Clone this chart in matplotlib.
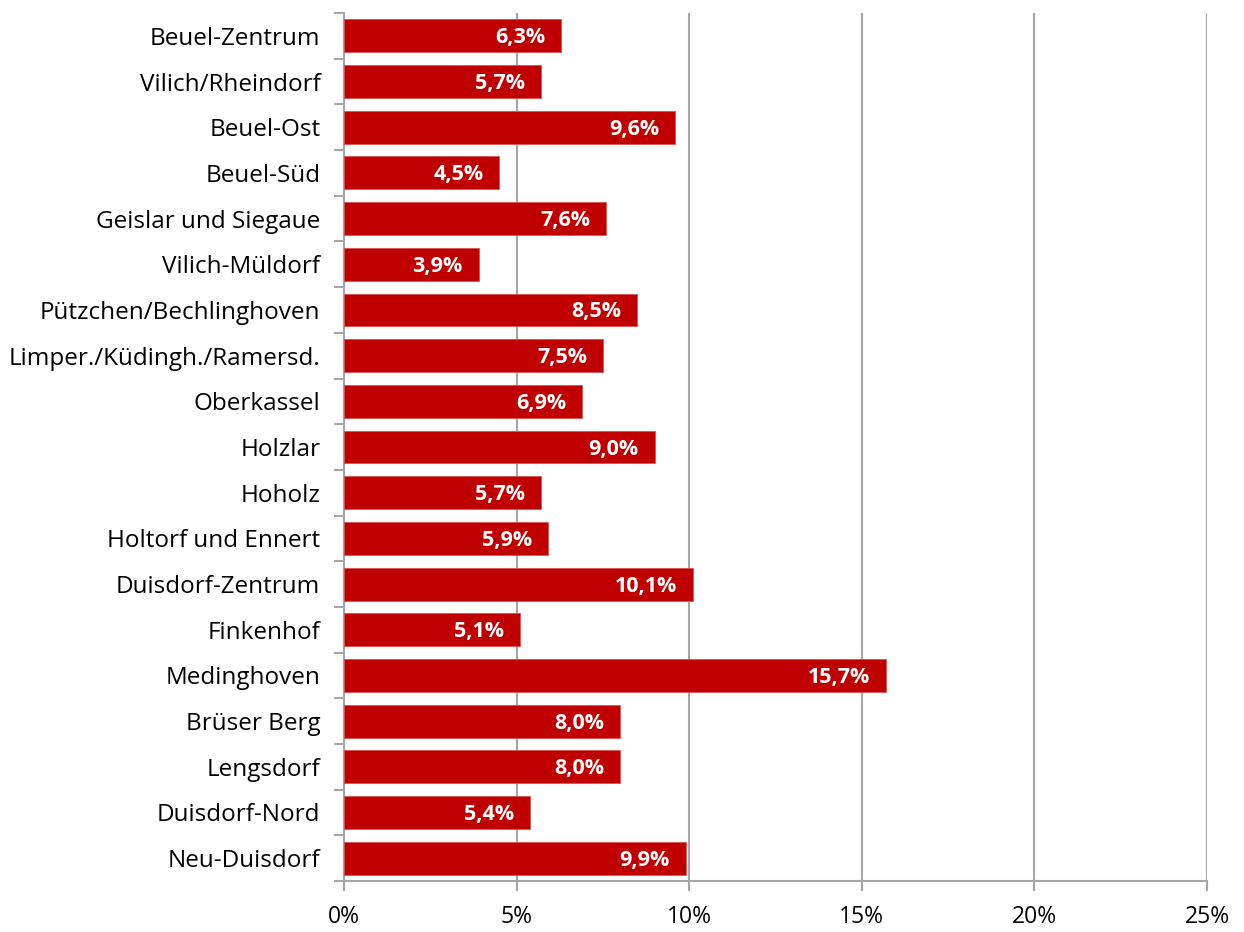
import numpy as np
import matplotlib.pyplot as plt
from matplotlib.ticker import FixedLocator, FuncFormatter

plt.rcParams['font.family'] = ['Open Sans', 'DejaVu Sans']

stadtteile = [
    "Beuel-Zentrum", "Vilich/Rheindorf", "Beuel-Ost", "Beuel-Süd",
    "Geislar und Siegaue", "Vilich-Müldorf", "Pützchen/Bechlinghoven",
    "Limper./Küdingh./Ramersd.", "Oberkassel", "Holzlar", "Hoholz",
    "Holtorf und Ennert", "Duisdorf-Zentrum", "Finkenhof", "Medinghoven",
    "Brüser Berg", "Lengsdorf", "Duisdorf-Nord", "Neu-Duisdorf",
]
anteil = [6.3, 5.7, 9.6, 4.5, 7.6, 3.9, 8.5, 7.5, 6.9, 9.0,
          5.7, 5.9, 10.1, 5.1, 15.7, 8.0, 8.0, 5.4, 9.9]

rot = '#C00000'
grau = '#A6A6A6'

fig = plt.figure(figsize=(12.44, 9.32), dpi=100)
ax = fig.add_axes([0.2765, 0.0547, 0.6938, 0.9313])

y = np.arange(len(stadtteile))
bars = ax.barh(y, anteil, height=0.72, color=rot, edgecolor='#D9534F',
               linewidth=0.6, zorder=3)

# Prozentwerte rechtsbündig im Balken
for b, v in zip(bars, anteil):
    ax.annotate(f"{v:.1f}%".replace('.', ','),
                xy=(b.get_width(), b.get_y() + b.get_height() / 2),
                xytext=(-16, -2), textcoords='offset pixels',
                ha='right', va='center', color='white',
                fontsize=15.5, fontweight='bold', zorder=4)

ax.set_xlim(0, 25)
ax.set_ylim(len(stadtteile) - 0.5, -0.5)
ax.set_xticks(np.arange(0, 26, 5))
ax.xaxis.set_major_formatter(FuncFormatter(lambda v, p: f"{v:.0f}%"))
ax.set_yticks(y)
ax.set_yticklabels(stadtteile)
ax.yaxis.set_minor_locator(FixedLocator(np.arange(-0.5, len(stadtteile), 1)))

ax.grid(axis='x', color=grau, linewidth=1.5, zorder=0)
ax.tick_params(axis='y', which='major', length=0, pad=17, labelsize=17.5)
ax.tick_params(axis='y', which='minor', length=7, width=1.5, color=grau, direction='out')
ax.tick_params(axis='x', length=7, width=1.5, color=grau, direction='out', pad=10,
               labelsize=16.5)

for s in ['top', 'right']:
    ax.spines[s].set_visible(False)
for s in ['left', 'bottom']:
    ax.spines[s].set_color(grau)
    ax.spines[s].set_linewidth(1.5)

fig.savefig('out.png', dpi=100)
